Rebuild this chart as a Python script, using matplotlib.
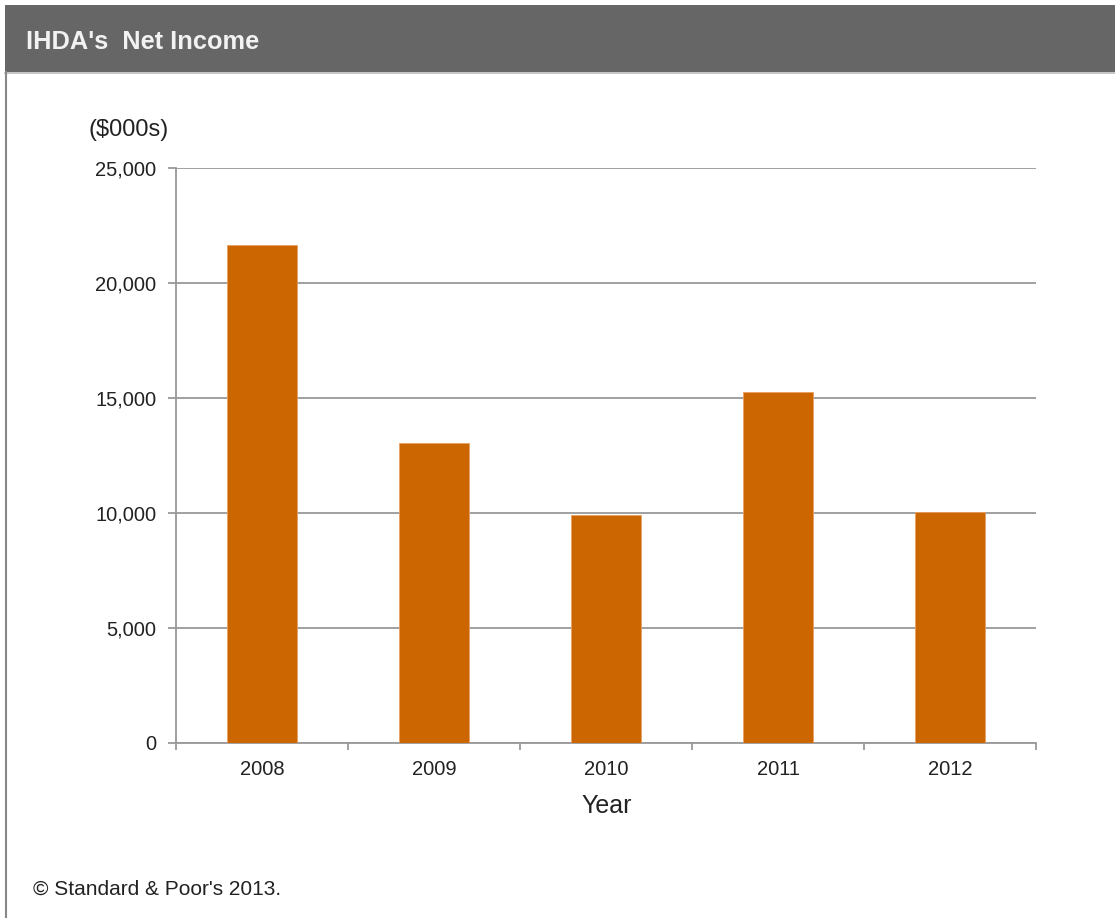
import matplotlib
matplotlib.use("Agg")
import matplotlib.pyplot as plt
from matplotlib.patches import Rectangle
from matplotlib.lines import Line2D
from matplotlib.ticker import FuncFormatter, FixedLocator

years = ["2008", "2009", "2010", "2011", "2012"]
net_income = [21650, 13030, 9900, 15270, 10040]
y_ticks = [0, 5000, 10000, 15000, 20000, 25000]

plt.rcParams['font.family'] = ['Liberation Sans', 'DejaVu Sans']

W, H = 1115, 918
fig = plt.figure(figsize=(W / 100, H / 100), dpi=100)

def fx(px):
    return px / W

def fy(py):
    return 1 - py / H

# header band
fig.patches.append(Rectangle((fx(5), fy(72)), 1 - fx(5), fy(5) - fy(72),
                             transform=fig.transFigure, facecolor="#666666",
                             edgecolor="none", zorder=0))
fig.lines.append(Line2D([fx(5), 1], [fy(72.5), fy(72.5)], transform=fig.transFigure,
                        color="#bbbbbb", lw=1.2))
# left frame border
fig.lines.append(Line2D([fx(6), fx(6)], [fy(72), 0], transform=fig.transFigure,
                        color="#888888", lw=1.5))

fig.text(fx(26), fy(42), "IHDA's  Net Income", color="#f2f2f2", fontsize=18.3,
         fontweight="bold", ha="left", va="center")

ax = fig.add_axes([fx(176), fy(743), fx(1036) - fx(176), fy(168) - fy(743)])
x = list(range(len(years)))
ax.bar(x, net_income, width=0.41, color="#CC6600", edgecolor="#E8A060",
       linewidth=0.6, zorder=3)

ax.set_xlim(-0.5, len(years) - 0.5)
ax.set_ylim(0, 25000)
ax.set_yticks(y_ticks)
ax.yaxis.set_major_formatter(FuncFormatter(lambda v, p: f"{int(v):,}"))
ax.grid(axis="y", color="#999999", linewidth=1.3, zorder=0)
ax.set_axisbelow(True)

ax.set_xticks(x)
ax.set_xticklabels(years)
ax.xaxis.set_minor_locator(FixedLocator([i - 0.5 for i in range(len(years) + 1)]))
ax.tick_params(axis="x", which="major", length=0, pad=12, labelsize=14.5, labelcolor="#222222")
ax.tick_params(axis="x", which="minor", length=5, width=1.3, color="#999999", direction="out")
ax.tick_params(axis="y", which="major", length=6, width=1.3, color="#999999",
               direction="out", pad=8, labelsize=14.5, labelcolor="#222222")

for s in ["top", "right"]:
    ax.spines[s].set_visible(False)
for s in ["left", "bottom"]:
    ax.spines[s].set_color("#999999")
    ax.spines[s].set_linewidth(1.3)

fig.text(fx(607), fy(806), "Year", fontsize=18, color="#222222",
         ha="center", va="center")
fig.text(fx(88), fy(130), "($000s)", fontsize=17, color="#222222",
         ha="left", va="center")
fig.text(fx(33), fy(889), "\u00a9 Standard & Poor's 2013.", fontsize=15,
         color="#222222", ha="left", va="center")

fig.savefig("out.png", dpi=100, facecolor="white")
